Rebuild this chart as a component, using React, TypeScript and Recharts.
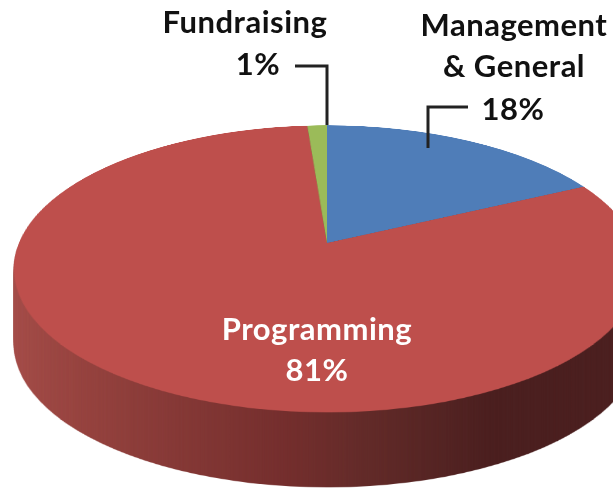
import { PieChart, Pie, Cell } from "recharts"

const categories = ["Management & General", "Programming", "Fundraising"]
const shares = [17.8, 81, 1.2]
const topColors = ["#4f7db8", "#be4f4c", "#9bbb59"]
const wallColors = ["#2f4b70", "url(#wall)", "#5d7035"]

const data = categories.map((name, i) => ({ name, value: shares[i] }))

const RADIUS = 308
const SIZE = RADIUS * 2 + 4
const APEX_X = 327
const APEX_Y = 243
const DEPTH = 75
const tilt = "perspective(1527px) rotateX(63.2deg)"

// one flat disc, the 3d look comes from the css tilt and stacking
function Disc({ offset, colors }: { offset: number; colors: string[] }) {
  return (
    <div
      style={{
        position: "absolute",
        left: APEX_X - SIZE / 2,
        top: APEX_Y - SIZE / 2 + offset,
        width: SIZE,
        height: SIZE,
        transform: tilt,
        transformOrigin: "50% 50%",
      }}
    >
      <PieChart width={SIZE} height={SIZE} margin={{ top: 0, right: 0, bottom: 0, left: 0 }}>
        <defs>
          <linearGradient id="wall" x1="0" y1="0" x2="1" y2="0">
            <stop offset="0%" stopColor="#a64c48" />
            <stop offset="15%" stopColor="#96423e" />
            <stop offset="45%" stopColor="#732d2c" />
            <stop offset="55%" stopColor="#622a28" />
            <stop offset="72%" stopColor="#4a1e1e" />
            <stop offset="100%" stopColor="#4a1e1e" />
          </linearGradient>
        </defs>
        <Pie
          data={data}
          dataKey="value"
          cx="50%"
          cy="50%"
          outerRadius={RADIUS}
          startAngle={90}
          endAngle={-270}
          stroke="none"
          isAnimationActive={false}
        >
          {data.map((d, i) => (
            <Cell key={d.name} fill={colors[i]} />
          ))}
        </Pie>
      </PieChart>
    </div>
  )
}

const labelStyle = { fontFamily: "Lato", fontWeight: 700, fontSize: 31, letterSpacing: 0.5, textAnchor: "middle" as const }

export default function App() {
  const wallLayers = []
  for (let d = DEPTH; d > 0; d--) wallLayers.push(d)

  return (
    <div style={{ position: "absolute", left: 0, top: 0, width: 613, height: 489, overflow: "hidden", background: "#fff" }}>
      {wallLayers.map((d) => (
        <Disc key={d} offset={d} colors={wallColors} />
      ))}
      <Disc offset={0} colors={topColors} />
      <svg width={613} height={489} style={{ position: "absolute", left: 0, top: 0 }}>
        <polyline points="295,66 327,66 327,125" fill="none" stroke="#222" strokeWidth={3} />
        <polyline points="468,107 428,107 428,148" fill="none" stroke="#222" strokeWidth={3} />
        <g style={labelStyle} fill="#111">
          <text x={245} y={33}>Fundraising</text>
          <text x={258} y={75}>1%</text>
          <text x={514} y={36}>Management</text>
          <text x={514} y={77}>& General</text>
          <text x={513} y={120}>18%</text>
        </g>
        <g style={labelStyle} fill="#fff">
          <text x={317} y={340}>Programming</text>
          <text x={317} y={381}>81%</text>
        </g>
      </svg>
    </div>
  )
}
